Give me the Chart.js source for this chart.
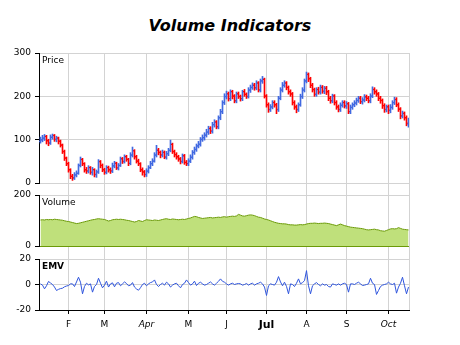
<!DOCTYPE html>
<html>
<head>
<meta charset="utf-8">
<script src="https://cdn.jsdelivr.net/npm/chart.js@4.4.0/dist/chart.umd.min.js"></script>
<style>
  body { margin: 0; background: #fff; }
  #wrap { position: relative; width: 460px; height: 345px; }
  #wrap canvas { position: absolute; left: 0; top: 0; }
  #title { position: absolute; left: 0; top: 16px; width: 460px; text-align: center;
           font: italic bold 16px/20px "DejaVu Sans"; color: #000; }
</style>
</head>
<body>
<div id="wrap">
  <div id="title">Volume Indicators</div>
  <canvas id="grid" width="460" height="345"></canvas>
  <canvas id="price" width="460" height="345"></canvas>
  <canvas id="volume" width="460" height="345"></canvas>
  <canvas id="emv" width="460" height="345"></canvas>
</div>
<script>
// month labels on the bottom axis and the bar index where each month starts
const monthLabels = ['F', 'M', 'Apr', 'M', 'J', 'Jul', 'A', 'S', 'Oct'];
const monthTickIdx = [14, 32, 53, 74, 93, 113, 133, 153, 174];

// daily prices (one bar per trading day)
const openPrices = [
  96,99,103,107,98,93,105,110,100,104, 97,87,73,57,45,31,16,11,19,23,
  41,54,44,31,27,36,24,31,19,26, 49,41,31,24,36,31,27,39,46,34,
  41,56,49,61,54,46,64,74,61,51, 44,31,26,19,27,36,44,51,64,76,
  71,64,71,59,67,76,89,73,66,61, 56,49,63,47,44,51,59,71,77,86,
  89,101,104,111,117,126,119,134,141,129, 151,164,186,199,206,194,211,201,189,206,
  199,194,211,204,199,214,221,226,219,231, 214,236,239,201,181,169,176,186,181,169,
  196,214,226,231,221,211,206,186,176,169, 181,199,214,236,251,241,226,216,204,216,
  209,221,211,219,211,196,189,201,186,176, 169,179,186,177,183,164,174,181,184,191,
  196,187,191,199,196,189,201,216,211,206, 196,191,179,169,176,167,174,186,193,181,
  171,154,161,151,136
];
const highPrices = [
  106,110,112,110,101,111,113,112,108,106, 99,90,76,60,48,33,20,24,28,44,
  60,57,47,36,40,38,36,33,30,54, 52,44,34,40,39,35,46,50,48,45,
  60,59,65,64,57,70,83,77,64,55, 47,35,29,33,40,50,56,70,87,80,
  74,76,74,73,80,99,92,76,70,64, 59,67,66,52,56,65,75,83,90,96,
  105,111,116,124,131,130,140,146,144,155, 170,190,206,212,210,215,214,204,210,210,
  203,214,216,208,220,226,231,230,236,234, 240,246,242,204,185,181,190,190,184,200,
  220,232,236,234,224,215,209,190,180,185, 205,220,240,256,254,244,230,219,220,221,
  226,225,223,223,214,200,205,204,190,180, 185,190,190,188,186,180,185,190,196,200,
  200,197,204,203,200,206,222,220,215,209, 200,194,183,180,180,181,190,198,197,185,
  174,166,164,155,150
];
const lowPrices = [
  92,95,98,90,86,89,101,96,95,90, 83,68,52,40,25,10,6,8,14,20,
  37,40,25,22,23,20,18,14,13,22, 35,26,20,21,25,22,24,35,31,30,
  38,45,46,50,40,42,60,55,46,40, 26,18,14,15,23,33,40,48,60,65,
  58,60,56,55,63,72,68,60,55,50, 44,46,43,40,40,47,55,66,73,81,
  85,96,99,106,112,114,115,129,125,125, 146,160,181,194,189,190,194,185,185,195,
  189,190,200,195,196,209,216,214,215,210, 210,230,196,175,163,165,171,175,160,165,
  192,210,221,215,205,200,180,170,162,165, 177,195,210,231,234,220,210,200,200,205,
  205,207,206,204,190,184,185,180,170,164, 165,175,173,172,160,160,170,176,180,186,
  183,182,187,190,185,185,197,205,200,190, 184,172,163,164,160,162,170,181,176,165,
  148,150,145,132,129
];
const closePrices = [
  100,104,108,97,92,106,109,101,103,96, 88,72,58,44,30,15,12,18,22,40,
  55,45,30,28,35,25,30,20,25,50, 40,30,25,35,30,28,40,45,35,40,
  55,50,60,55,45,65,75,60,50,45, 30,25,20,28,35,45,50,65,75,70,
  65,70,60,68,75,90,72,65,60,55, 50,62,48,45,50,60,70,78,85,90,
  100,105,110,118,125,120,135,140,130,150, 165,185,200,205,195,210,200,190,205,200,
  195,210,205,200,215,220,225,220,230,215, 235,240,200,180,170,175,185,180,170,195,
  215,225,230,220,210,205,185,175,170,180, 200,215,235,250,240,225,215,205,215,210,
  220,212,218,210,195,190,200,185,175,170, 180,185,178,182,165,175,180,185,190,195,
  188,192,198,195,190,200,215,210,205,195, 190,178,170,175,168,175,185,192,180,170,
  155,160,150,138,140
];

// volume (panel scale 0-200)
const volumes = [
  102,103,102,104,103,104,103,105,104,103, 102,101,99,97,96,94,92,90,88,89,
  91,93,95,97,99,101,103,104,106,107, 106,105,104,101,98,100,103,104,105,104,
  105,104,103,101,100,98,96,94,96,100, 98,96,100,103,102,101,100,102,101,100,
  102,104,106,107,105,104,106,105,104,103, 104,105,104,106,108,110,113,116,115,112,
  110,108,109,110,111,112,110,111,112,113, 112,114,115,113,115,116,117,116,118,124,
  121,118,117,119,121,122,121,119,116,113, 112,109,106,104,102,99,96,93,91,89,
  88,87,87,86,84,83,83,82,82,83, 84,83,84,86,88,89,89,90,89,88,
  89,89,90,89,88,86,84,82,80,83, 86,83,80,78,76,74,73,72,71,70,
  69,68,66,64,63,64,65,66,64,63, 60,59,58,61,64,67,68,67,68,72,
  69,66,65,64,63
];

// ease of movement
const emvValues = [
  0.5,-0.5,-3.4,-1,2.4,1.2,0,-2,-4.7,-3.8, -3.2,-2.9,-1.8,-1.2,-0.8,0.5,0.5,-1.6,2,5.7,
  1.8,-7.3,-1.5,1,-0.3,0.5,-6,-1.5,0,4.9, 1,-2.6,-0.5,2.6,-2,0.5,1.3,-1.8,1,1.5,
  -1,0.5,2,0.8,-1,-0.5,1.5,-2,-3.5,-4.5, -2.5,0,1,-1,0.5,1.5,2,3.6,0,-1.6,
  0,1,-0.5,1.8,0.5,-2,-0.5,0.5,1,-1, -2.6,0,1,3.6,1.5,-0.5,0.5,2.6,-0.8,1,
  1.8,0.5,-0.5,0,1,2,0.5,-0.5,1,2.5, 4.4,2.5,1.8,0.5,-0.5,0.5,1,0,0.5,0.8,
  0.5,-0.5,0,0.8,-0.5,0.5,1,-0.5,0.5,1, 1.8,0.5,-2,-8.6,-1,0.5,0,-0.5,1.8,6.2,
  2,-1,1.8,-1.5,-7.3,0.5,0,-1.6,1,4.4, 0.5,1.5,3,10.9,-1,-7.3,-1,0.5,1.5,0,
  -1,0.5,-0.5,0,-1.6,-2,0.5,0,-0.5,0.5, -0.5,0.5,1,0,-6,0.5,0.5,0,1,1.8,
  0.5,-0.8,-0.5,0,0.5,4.9,1,0,-7.8,-4.7, -1.6,-0.5,0,0.5,1.8,0.5,0,1,-6.8,-2,
  1,5.7,-1,-7.3,-2
];

const xMin = -0.75, xMax = 184.25;
const plotLeft = 39, plotRight = 409;
const gridColor = '#d3d3d3';
const tickFont = { family: 'DejaVu Sans', size: 9 };
const upColor = '#4169e1';
const downColor = '#ff0000';

const barColors = closePrices.map((c, i) => c >= openPrices[i] ? upColor : downColor);

// opciones comunes de cada panel
function panelOptions(yMin, yMax, yStep, top, bottom, lineColor) {
  return {
    responsive: false,
    animation: false,
    devicePixelRatio: 1,
    layout: { padding: { left: 0, right: 460 - plotRight, top: top, bottom: 345 - bottom } },
    plugins: { legend: { display: false }, tooltip: { enabled: false } },
    scales: {
      x: { type: 'linear', display: false, min: xMin, max: xMax, offset: false, grid: { offset: false } },
      y: {
        min: yMin, max: yMax,
        ticks: { stepSize: yStep, color: '#000', font: tickFont, padding: 4 },
        grid: { color: lineColor || gridColor, tickColor: '#000', tickLength: 4 },
        border: { color: '#000' },
        afterFit: s => { s.width = plotLeft; }
      }
    }
  };
}

function panelLabel(text, bold) {
  return {
    id: 'panelLabel',
    afterDraw(chart) {
      const ctx = chart.ctx, a = chart.chartArea;
      ctx.save();
      ctx.font = (bold ? 'bold ' : '') + '9px "DejaVu Sans"';
      ctx.fillStyle = '#000';
      ctx.textBaseline = 'top';
      ctx.fillText(text, a.left + 3, a.top + 3);
      ctx.restore();
    }
  };
}

// fondo: rejilla vertical y eje de meses
new Chart(document.getElementById('grid'), {
  type: 'scatter',
  data: { datasets: [] },
  options: {
    responsive: false,
    animation: false,
    devicePixelRatio: 1,
    layout: { padding: { left: plotLeft, right: 460 - plotRight, top: 53, bottom: 0 } },
    plugins: { legend: { display: false }, tooltip: { enabled: false } },
    scales: {
      y: { display: false, min: 0, max: 1 },
      x: {
        type: 'linear', min: xMin, max: xMax,
        afterBuildTicks: s => { s.ticks = monthTickIdx.map(v => ({ value: v })).concat([{ value: xMax }]); },
        afterFit: s => { s.height = 345 - 310; },
        ticks: {
          autoSkip: false, maxRotation: 0, color: '#000', padding: 5,
          callback: (v, i) => i < monthLabels.length ? monthLabels[i] : '',
          font: ctx => {
            const lbl = monthLabels[ctx.index];
            if (lbl === 'Jul') return { family: 'DejaVu Sans', size: 11, weight: 'bold' };
            if (lbl === 'Apr' || lbl === 'Oct') return { family: 'DejaVu Sans', size: 9, style: 'italic' };
            return tickFont;
          }
        },
        grid: {
          color: gridColor, tickLength: 4,
          tickColor: ctx => ctx.index < monthLabels.length ? '#000' : 'rgba(0,0,0,0)'
        },
        border: { color: '#000' }
      }
    }
  }
});

// precio: barras OHLC
new Chart(document.getElementById('price'), {
  type: 'bar',
  data: {
    datasets: [
      {
        type: 'line', showLine: false,
        data: openPrices.map((o, i) => ({ x: i - 0.5, y: o })),
        pointStyle: 'line', pointRadius: 0.5, pointBorderWidth: 1, pointBorderColor: barColors
      },
      {
        type: 'line', showLine: false,
        data: closePrices.map((c, i) => ({ x: i + 0.5, y: c })),
        pointStyle: 'line', pointRadius: 0.5, pointBorderWidth: 1, pointBorderColor: barColors
      },
      {
        data: highPrices.map((h, i) => ({ x: i, y: [lowPrices[i], h] })),
        backgroundColor: barColors, borderWidth: 0, barThickness: 1
      }
    ]
  },
  options: panelOptions(0, 300, 100, 53, 183),
  plugins: [panelLabel('Price', false)]
});

// volumen
new Chart(document.getElementById('volume'), {
  type: 'line',
  data: {
    datasets: [{
      data: volumes.map((v, i) => ({ x: i, y: v })),
      fill: 'origin', backgroundColor: '#bfe07b', borderColor: '#6b9a08',
      borderWidth: 1, pointRadius: 0, tension: 0
    }]
  },
  options: panelOptions(0, 200, 200, 195, 246, ctx => ctx.tick.value === 0 ? '#6b9a08' : gridColor),
  plugins: [panelLabel('Volume', false)]
});

// EMV
new Chart(document.getElementById('emv'), {
  type: 'line',
  data: {
    datasets: [{
      data: emvValues.map((v, i) => ({ x: i, y: v })),
      borderColor: '#2f55dd', borderWidth: 1, pointRadius: 0, tension: 0, fill: false
    }]
  },
  options: panelOptions(-20, 20, 20, 259, 310, ctx => ctx.tick.value === -20 ? '#000' : gridColor),
  plugins: [panelLabel('EMV', true)]
});
</script>
</body>
</html>
